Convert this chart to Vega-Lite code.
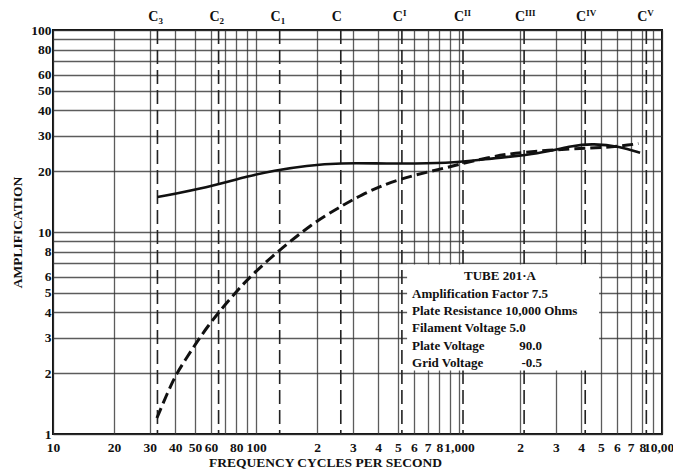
{
  "$schema": "https://vega.github.io/schema/vega-lite/v6.json",
  "width": 609,
  "height": 404,
  "autosize": {"type": "none"},
  "padding": {"left": 53, "top": 30, "right": 11, "bottom": 35},
  "background": "white",
  "config": {
    "view": {"stroke": "#111", "strokeWidth": 2},
    "font": "Liberation Serif",
    "axis": {
      "grid": true,
      "ticks": false,
      "domain": false,
      "labelFont": "Liberation Serif",
      "labelFontSize": 13.5,
      "labelFontWeight": "bold",
      "labelColor": "#111",
      "labelOverlap": false,
      "labelFlush": false,
      "titleFont": "Liberation Serif",
      "titleFontSize": 13.5,
      "titleFontWeight": "bold",
      "titleColor": "#111",
      "gridColor": "#333",
      "gridWidth": 1.3,
      "gridOpacity": 0.8
    }
  },
  "datasets": {
    "solid": [
      {"f": 32.7, "amp": 14.9},
      {"f": 57.4, "amp": 16.6},
      {"f": 93.3, "amp": 19.0},
      {"f": 121, "amp": 20.1},
      {"f": 178, "amp": 21.3},
      {"f": 259, "amp": 22.0},
      {"f": 422, "amp": 21.8},
      {"f": 903, "amp": 21.8},
      {"f": 1422, "amp": 23.1},
      {"f": 2506, "amp": 24.4},
      {"f": 3640, "amp": 26.8},
      {"f": 4570, "amp": 27.4},
      {"f": 6200, "amp": 26.5},
      {"f": 7800, "amp": 24.7}
    ],
    "dashed": [
      {"f": 32.5, "amp": 1.2},
      {"f": 39, "amp": 1.86},
      {"f": 43.6, "amp": 2.23},
      {"f": 58, "amp": 3.48},
      {"f": 80.5, "amp": 5.1},
      {"f": 93.3, "amp": 6.0},
      {"f": 124, "amp": 7.8},
      {"f": 191, "amp": 11.1},
      {"f": 250, "amp": 13.0},
      {"f": 325, "amp": 15.2},
      {"f": 495, "amp": 18.3},
      {"f": 834, "amp": 20.6},
      {"f": 1422, "amp": 23.6},
      {"f": 1991, "amp": 24.8},
      {"f": 3640, "amp": 25.9},
      {"f": 5340, "amp": 26.2},
      {"f": 6970, "amp": 27.0},
      {"f": 7650, "amp": 27.4}
    ],
    "notes": [
      {"f": 32.7, "name": "C", "suffix": "3", "pos": "sub"},
      {"f": 65.41, "name": "C", "suffix": "2", "pos": "sub"},
      {"f": 130.81, "name": "C", "suffix": "1", "pos": "sub"},
      {"f": 261.63, "name": "C", "suffix": "", "pos": "none"},
      {"f": 523.25, "name": "C", "suffix": "I", "pos": "sup"},
      {"f": 1046.5, "name": "C", "suffix": "II", "pos": "sup"},
      {"f": 2093, "name": "C", "suffix": "III", "pos": "sup"},
      {"f": 4186, "name": "C", "suffix": "IV", "pos": "sup"},
      {"f": 8372, "name": "C", "suffix": "V", "pos": "sup"}
    ],
    "box": [
      {"f1": 555, "f2": 4900, "a1": 6.9, "a2": 2.06}
    ],
    "boxlines": [
      {"t": "Amplification Factor 7.5", "amp": 4.92},
      {"t": "Plate Resistance 10,000 Ohms", "amp": 4.05},
      {"t": "Filament Voltage 5.0", "amp": 3.33},
      {"t": "Plate Voltage", "amp": 2.74},
      {"t": "Grid Voltage", "amp": 2.25}
    ],
    "boxvals": [
      {"t": "90.0", "amp": 2.74},
      {"t": "-0.5", "amp": 2.25}
    ],
    "boxtitle": [
      {"t": "TUBE 201·A", "amp": 6.04}
    ]
  },
  "layer": [
    {
      "data": {"name": "notes"},
      "mark": {"type": "rule", "strokeDash": [14, 6], "strokeWidth": 1.6, "color": "#222"},
      "encoding": {
        "x": {
          "field": "f", "type": "quantitative",
          "scale": {"type": "log", "domain": [10, 10000], "nice": false},
          "axis": {
            "orient": "bottom",
            "values": [10,20,30,40,50,60,70,80,90,100,200,300,400,500,600,700,800,900,1000,2000,3000,4000,5000,6000,7000,8000,9000,10000],
            "labelExpr": "indexof([10,20,30,40,50,60,80,100,1000,10000], datum.value) >= 0 ? format(datum.value, ',') : (indexof([200,300,400,500,600,700,800,2000,3000,4000,5000,6000,7000,8000], datum.value) >= 0 ? format(datum.value / pow(10, floor(log(datum.value) / LN10 + 1e-9)), 'd') : '')",
            "title": "FREQUENCY CYCLES PER SECOND",
            "grid": true,
            "ticks": false,
            "domain": false,
            "labelPadding": 6,
            "labelOverlap": false,
            "labelFlush": false,
            "titlePadding": 2,
            "titleX": 272,
            "encode": {
              "labels": {
                "update": {
                  "dx": {"signal": "datum.value >= 10000 ? 6 : (datum.value == 8000 ? -1 : 0)"},
                  "fontSize": {"signal": "datum.value >= 10000 ? 13 : 13.5"}
                }
              }
            }
          }
        }
      }
    },
    {
      "data": {"name": "box"},
      "mark": {"type": "rect", "color": "white", "opacity": 1},
      "encoding": {
        "x": {"field": "f1", "type": "quantitative", "scale": {"type": "log", "domain": [10, 10000], "nice": false}},
        "x2": {"field": "f2"},
        "y": {"field": "a1", "type": "quantitative", "scale": {"type": "log", "domain": [1, 100], "nice": false}},
        "y2": {"field": "a2"}
      }
    },
    {
      "data": {"name": "solid"},
      "mark": {"type": "line", "interpolate": "basis", "strokeWidth": 2.6, "color": "#111"},
      "encoding": {
        "x": {"field": "f", "type": "quantitative", "scale": {"type": "log", "domain": [10, 10000], "nice": false}},
        "y": {
          "field": "amp", "type": "quantitative",
          "scale": {"type": "log", "domain": [1, 100], "nice": false},
          "axis": {
            "orient": "left",
            "values": [1,2,3,4,5,6,7,8,9,10,20,30,40,50,60,70,80,90,100],
            "labelExpr": "indexof([7,9,70,90], datum.value) >= 0 ? '' : format(datum.value, 'd')",
            "title": "AMPLIFICATION",
            "grid": true,
            "ticks": false,
            "domain": false,
            "labelPadding": 2,
            "labelOverlap": false,
            "labelFlush": false,
            "titlePadding": 6,
            "encode": {
              "labels": {
                "update": {
                  "dy": {"signal": "datum.value <= 1 ? -3 : 0"}
                }
              }
            }
          }
        }
      }
    },
    {
      "data": {"name": "dashed"},
      "mark": {"type": "line", "interpolate": "basis", "strokeWidth": 3, "strokeDash": [11, 5], "color": "#111"},
      "encoding": {
        "x": {"field": "f", "type": "quantitative", "scale": {"type": "log", "domain": [10, 10000], "nice": false}},
        "y": {"field": "amp", "type": "quantitative", "scale": {"type": "log", "domain": [1, 100], "nice": false}}
      }
    },
    {
      "data": {"name": "notes"},
      "mark": {"type": "text", "align": "right", "baseline": "middle", "dx": 1, "dy": -13, "font": "Liberation Serif", "fontSize": 14, "fontWeight": "bold", "color": "#111"},
      "encoding": {
        "x": {"field": "f", "type": "quantitative", "scale": {"type": "log", "domain": [10, 10000], "nice": false}},
        "y": {"datum": 100, "type": "quantitative", "scale": {"type": "log", "domain": [1, 100], "nice": false}},
        "text": {"field": "name"}
      }
    },
    {
      "data": {"name": "notes"},
      "transform": [{"filter": "datum.pos === 'sub'"}],
      "mark": {"type": "text", "align": "left", "baseline": "middle", "dx": 1, "dy": -9, "font": "Liberation Serif", "fontSize": 9, "fontWeight": "bold", "color": "#111"},
      "encoding": {
        "x": {"field": "f", "type": "quantitative", "scale": {"type": "log", "domain": [10, 10000], "nice": false}},
        "y": {"datum": 100, "type": "quantitative", "scale": {"type": "log", "domain": [1, 100], "nice": false}},
        "text": {"field": "suffix"}
      }
    },
    {
      "data": {"name": "notes"},
      "transform": [{"filter": "datum.pos === 'sup'"}],
      "mark": {"type": "text", "align": "left", "baseline": "middle", "dx": 1, "dy": -17, "font": "Liberation Serif", "fontSize": 9, "fontWeight": "bold", "color": "#111"},
      "encoding": {
        "x": {"field": "f", "type": "quantitative", "scale": {"type": "log", "domain": [10, 10000], "nice": false}},
        "y": {"datum": 100, "type": "quantitative", "scale": {"type": "log", "domain": [1, 100], "nice": false}},
        "text": {"field": "suffix"}
      }
    },
    {
      "data": {"name": "boxtitle"},
      "mark": {"type": "text", "align": "center", "baseline": "middle", "font": "Liberation Serif", "fontSize": 13, "fontWeight": "bold", "color": "#111"},
      "encoding": {
        "x": {"datum": 1592, "type": "quantitative", "scale": {"type": "log", "domain": [10, 10000], "nice": false}},
        "y": {"field": "amp", "type": "quantitative", "scale": {"type": "log", "domain": [1, 100], "nice": false}},
        "text": {"field": "t"}
      }
    },
    {
      "data": {"name": "boxlines"},
      "mark": {"type": "text", "align": "left", "baseline": "middle", "font": "Liberation Serif", "fontSize": 13, "fontWeight": "bold", "color": "#111"},
      "encoding": {
        "x": {"datum": 587, "type": "quantitative", "scale": {"type": "log", "domain": [10, 10000], "nice": false}},
        "y": {"field": "amp", "type": "quantitative", "scale": {"type": "log", "domain": [1, 100], "nice": false}},
        "text": {"field": "t"}
      }
    },
    {
      "data": {"name": "boxvals"},
      "mark": {"type": "text", "align": "right", "baseline": "middle", "font": "Liberation Serif", "fontSize": 13, "fontWeight": "bold", "color": "#111"},
      "encoding": {
        "x": {"datum": 2564, "type": "quantitative", "scale": {"type": "log", "domain": [10, 10000], "nice": false}},
        "y": {"field": "amp", "type": "quantitative", "scale": {"type": "log", "domain": [1, 100], "nice": false}},
        "text": {"field": "t"}
      }
    }
  ]
}
